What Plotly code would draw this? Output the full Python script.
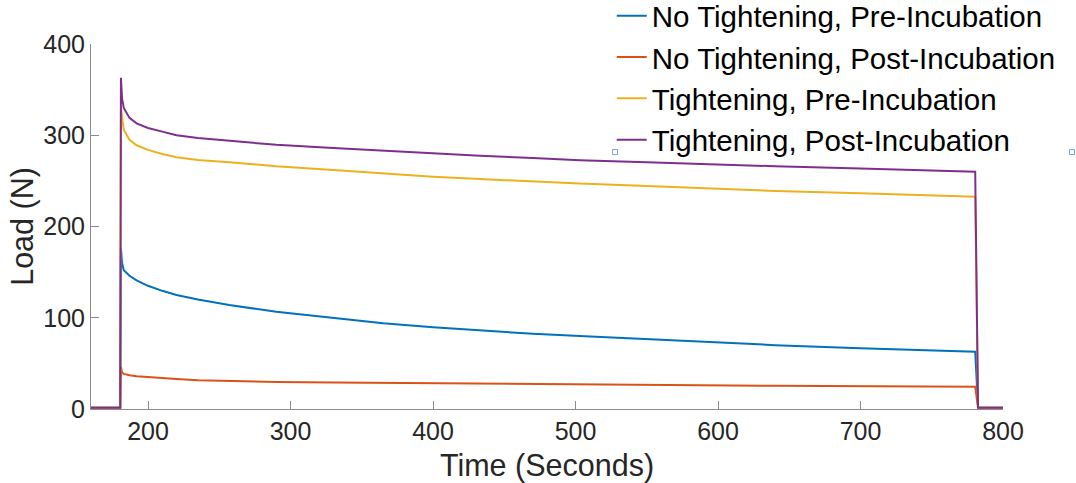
import plotly.graph_objects as go

time_s = [160, 180.5, 181, 181.8, 183, 187, 192, 200, 210, 220, 235, 257, 290, 330, 365,
          400, 433, 470, 503, 550, 587, 640, 700, 750, 780.5, 782.5, 800]

no_tight_pre = [1.5, 1.5, 176, 160, 152, 146, 141, 135, 129.5, 125, 120, 114, 106.5, 100, 94,
                89.5, 86, 82.5, 80, 76.5, 73.5, 70, 66.5, 64, 62.8, 1.5, 1.5]
no_tight_post = [1.5, 1.5, 46, 40, 38.5, 37, 36, 35, 34, 33, 31.5, 30.5, 29.5, 29, 28.5,
                 28, 27.5, 27, 26.5, 26.3, 26, 25.5, 25, 24.8, 24.5, 1.5, 1.5]
tight_pre = [1.5, 1.5, 330, 318, 306, 295, 289, 284, 279.5, 276, 273, 270.5, 266, 262, 258,
             254.5, 252, 249, 247, 244.5, 242, 239, 236.5, 234.5, 232.7, 1.5, 1.5]
tight_post = [1.5, 1.5, 363, 340, 330, 319, 313, 308, 304, 300, 297, 294, 289.5, 286, 283,
              280, 277.5, 275, 272.5, 270.5, 268.5, 266, 263.5, 261.5, 260, 1.5, 1.5]

names = ["No Tightening, Pre-Incubation", "No Tightening, Post-Incubation",
         "Tightening, Pre-Incubation", "Tightening, Post-Incubation"]
series = [no_tight_pre, no_tight_post, tight_pre, tight_post]
colors = ["#0072BD", "#D95319", "#EDB120", "#7E2F8E"]

x_ticks = [200, 300, 400, 500, 600, 700, 800]
y_ticks = [0, 100, 200, 300, 400]

fig = go.Figure()
for i, (nm, vals, c) in enumerate(zip(names, series, colors)):
    fig.add_trace(go.Scatter(x=time_s, y=vals, mode="lines", name=nm,
                             legendgroup=f"g{i}",
                             line=dict(color=c, width=2)))

axis_common = dict(showline=True, linecolor="#8c8c8c", linewidth=1,
                   ticks="inside", ticklen=8, tickcolor="#8c8c8c",
                   showgrid=False, zeroline=False,
                   tickfont=dict(family="Liberation Sans, Arial", size=25, color="#262626"))

fig.update_layout(
    width=1076, height=483,
    margin=dict(l=91, r=73, t=44, b=74, autoexpand=False),
    paper_bgcolor="white", plot_bgcolor="white",
    font=dict(family="Liberation Sans, Arial", color="#262626"),
    xaxis=dict(range=[160, 800], tickvals=x_ticks,
               title=dict(text="Time (Seconds)", font=dict(size=30.5, color="#262626"), standoff=10),
               **axis_common),
    yaxis=dict(range=[0, 400], tickvals=y_ticks,
               title=dict(text="Load (N)", font=dict(size=30.5, color="#262626"), standoff=0),
               **axis_common),
    legend=dict(x=0.571, y=1.148, xanchor="left", yanchor="top",
                bgcolor="rgba(0,0,0,0)", borderwidth=0,
                font=dict(family="Liberation Sans, Arial", size=29.5, color="#000000"),
                tracegroupgap=0, itemwidth=30),
    showlegend=True,
)

for xp in [0.5746, 1.0757]:
    fig.add_shape(type="rect", xref="paper", yref="paper",
                  xsizemode="pixel", ysizemode="pixel",
                  xanchor=xp, yanchor=0.704, x0=-2.5, x1=2.5, y0=-2.5, y1=2.5,
                  line=dict(color="#7aa6c8", width=1), fillcolor="white")

fig.write_html("out.html", config={"displayModeBar": False},
               post_script="document.body.style.margin='0';")
